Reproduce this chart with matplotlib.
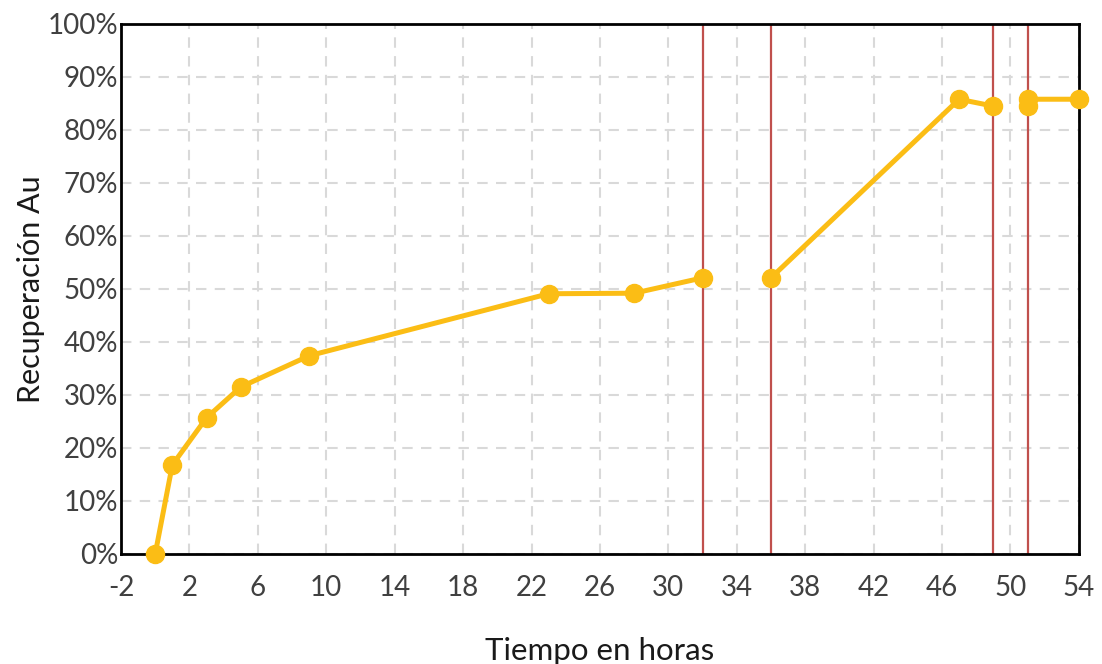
import numpy as np
import matplotlib
matplotlib.use("Agg")
import matplotlib.pyplot as plt
from matplotlib.ticker import FuncFormatter

# Data (NaN breaks the line into segments)
tiempo = [0, 1, 3, 5, 9, 23, 28, 32, np.nan, 36, 47, 49, np.nan, 51, 51, 54]
recuperacion = [0.0, 16.8, 25.7, 31.5, 37.4, 49.1, 49.2, 52.1, np.nan,
                52.1, 85.8, 84.5, np.nan, 84.5, 85.8, 85.8]
eventos = [32, 36, 49, 51]
xticks = list(range(-2, 55, 4))
yticks = list(range(0, 101, 10))

plt.rcParams['font.family'] = ['Lato', 'DejaVu Sans']
plt.rcParams['axes.unicode_minus'] = False

fig = plt.figure(figsize=(11.02, 6.64), dpi=100)
ax = fig.add_axes([0.1098, 0.1657, 0.979 - 0.1098, 0.9639 - 0.1657])

gray = '#404040'
ax.set_xlim(-2, 54)
ax.set_ylim(0, 100)
ax.set_xticks(xticks)
ax.set_yticks(yticks)
ax.xaxis.set_major_formatter(FuncFormatter(lambda v, p: f"{int(v)}"))
ax.yaxis.set_major_formatter(FuncFormatter(lambda v, p: f"{int(v)}%"))
ax.grid(True, color='#D9D9D9', linestyle=(0, (5, 4)), linewidth=1.5)
ax.set_axisbelow(True)

for xv in eventos:
    ax.axvline(xv, color='#C0504D', linewidth=1.6, zorder=2)

ax.plot(tiempo, recuperacion, color='#FBBD15', linewidth=3.6,
        marker='o', markersize=13, zorder=3, clip_on=False)

for s in ax.spines.values():
    s.set_color('black')
    s.set_linewidth(2)

ax.tick_params(axis='both', length=0, labelsize=20, colors=gray)
ax.tick_params(axis='x', pad=15)
ax.tick_params(axis='y', pad=2)
ax.set_xlabel('Tiempo en horas', fontsize=22.5, color='#1a1a1a', labelpad=26)
ax.set_ylabel('Recuperación Au', fontsize=22, color='#1a1a1a', labelpad=2)

fig.savefig('out.png', dpi=100)
